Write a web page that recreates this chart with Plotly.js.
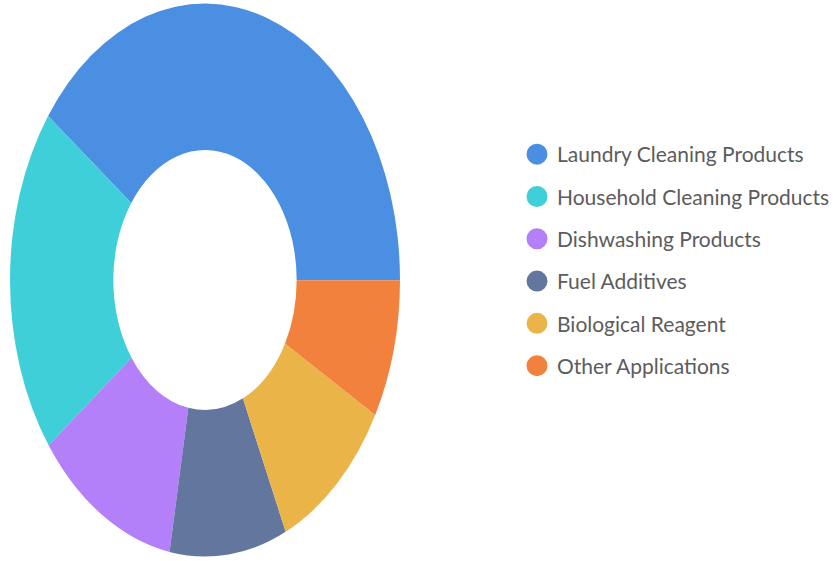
<!DOCTYPE html>
<html>
<head>
<meta charset="utf-8">
<script src="https://cdn.plot.ly/plotly-3.0.1.min.js"></script>
<style>
html, body { margin: 0; padding: 0; background: #fff; width: 835px; height: 561px; }
#wrap { position: relative; width: 835px; height: 561px; }
#legendplot { position: absolute; left: 0; top: 0; width: 835px; height: 561px; }
#pieplot { position: absolute; left: 0; top: 0; width: 410px; height: 395px; transform: scaleY(1.418); transform-origin: 0 0; }
</style>
</head>
<body>
<div id="wrap">
  <div id="legendplot"></div>
  <div id="pieplot"></div>
</div>
<script>
var categories = ["Laundry Cleaning Products", "Household Cleaning Products", "Dishwashing Products", "Fuel Additives", "Biological Reagent", "Other Applications"];
var shares = [39.9, 20.3, 11.9, 9.7, 10.1, 8.1];
var colors = ["#4A8FE2", "#3ECFD8", "#B480F9", "#62769E", "#EAB449", "#F2813E"];

// Donut (drawn in its own plot, stretched vertically like the reference)
var pieTrace = {
  type: "pie",
  labels: categories,
  values: shares,
  marker: { colors: colors, line: { width: 0 } },
  hole: 0.47,
  sort: false,
  direction: "counterclockwise",
  rotation: -53.6,
  textinfo: "none",
  hoverinfo: "label+percent",
  showlegend: false,
  domain: { x: [10 / 410, 400 / 410], y: [0, 1] }
};

Plotly.newPlot("pieplot", [pieTrace], {
  width: 410, height: 395,
  margin: { l: 0, r: 0, t: 0, b: 0 },
  paper_bgcolor: "rgba(0,0,0,0)", plot_bgcolor: "rgba(0,0,0,0)",
  showlegend: false
}, { displayModeBar: false, staticPlot: true });

// Legend with round markers, built from the same arrays
var legendTraces = categories.map(function (c, i) {
  return {
    type: "scatter",
    mode: "markers",
    x: [null], y: [null],
    name: c,
    legendgroup: "g" + i,
    marker: { color: colors[i], size: 16, symbol: "circle", line: { color: colors[i], width: 5 } },
    showlegend: true,
    hoverinfo: "skip"
  };
});

Plotly.newPlot("legendplot", legendTraces, {
  width: 835, height: 561,
  margin: { l: 0, r: 0, t: 0, b: 0 },
  paper_bgcolor: "#fff", plot_bgcolor: "#fff",
  xaxis: { visible: false }, yaxis: { visible: false },
  showlegend: true,
  legend: {
    x: 0.624, xanchor: "left", y: 0.5365, yanchor: "middle",
    traceorder: "grouped", tracegroupgap: 12,
    font: { family: "Lato", size: 21, color: "#5c5c5c" },
    itemsizing: "trace",
    bgcolor: "rgba(0,0,0,0)"
  }
}, { displayModeBar: false, staticPlot: true });
</script>
</body>
</html>
